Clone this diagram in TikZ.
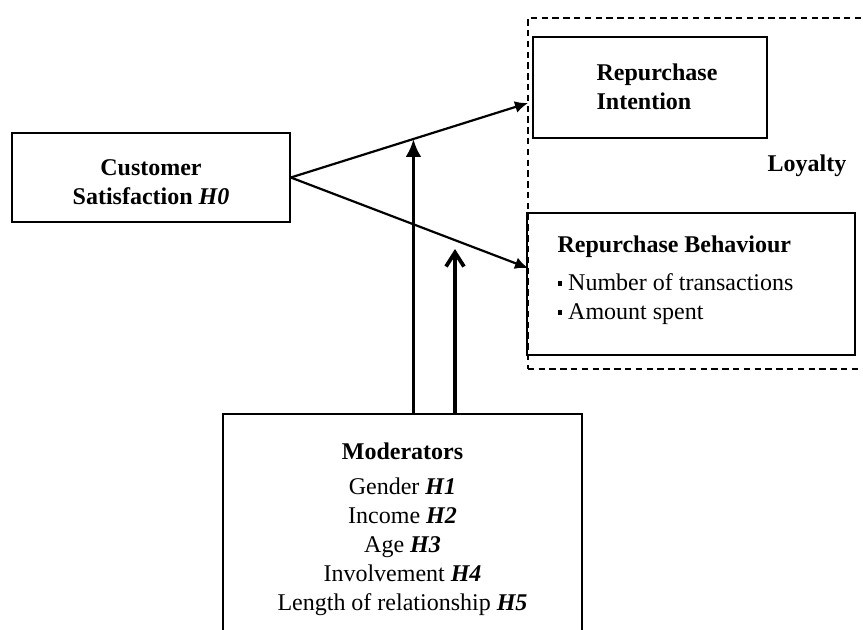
\documentclass[tikz,border=0pt]{standalone}
\usepackage{fontspec}
\setmainfont{Liberation Serif}
\usetikzlibrary{arrows.meta,positioning,calc}
\tikzset{
  box/.style={draw=black,line width=0.8pt,inner sep=0pt},
  txt/.style={inner sep=0pt,align=center,font=\fontsize{12}{14.5}\selectfont},
  head/.style={txt,font=\fontsize{12}{14.5}\selectfont\bfseries},
  group/.style={draw=black,line width=0.8pt,dash pattern=on 3.2pt off 2.2pt,inner sep=0pt},
  flow/.style={-{Latex[length=6.5pt,width=6pt]},line width=1.1pt},
  modflow/.style={-{Latex[length=9pt,width=8pt]},line width=1.9pt},
  modbarb/.style={-{Straight Barb[length=7pt,width=9pt,line width=1.9pt]},line width=1.9pt}
}
\newcommand{\sqbullet}{\raisebox{2.2pt}{\rule{2.3pt}{2.3pt}}\hspace{3pt}}
\begin{document}
\begin{tikzpicture}[x=0.5pt,y=-0.5pt]
  \useasboundingbox (0,0) rectangle (863,629);
  \clip (0,0) rectangle (863,629);
  % loyalty group
  \node[group,minimum width=190pt,minimum height=175.5pt,anchor=north west] (loyalty) at (527,17) {};
  \node[head] (loyal) at (807,166) {Loyalty};
  % boxes
  \node[box,minimum width=139pt,minimum height=44.5pt] (cs) at (151,177.5) {};
  \node[head] (cstext) at ($(cs.center)+(0,5)$) {Customer\\Satisfaction \textit{H0}};
  \node[box,minimum width=117pt,minimum height=50.5pt] (ri) at (650,87.5) {};
  \node[head,align=left,anchor=west] (ritext) at ($(ri.west)+(64,-1)$) {Repurchase\\Intention};
  \node[box,minimum width=164pt,minimum height=71pt] (rb) at (691,284) {};
  \node[txt,align=left,anchor=north west] (rbtext) at ($(rb.north west)+(31,23)$)
    {\textbf{Repurchase Behaviour}\\[4.5pt]\sqbullet Number of transactions\\\sqbullet Amount spent};
  \node[box,minimum width=179.5pt,minimum height=130pt,anchor=north] (mod) at (402.5,413) {};
  \node[txt,anchor=north] (modtext) at ($(mod.north)+(0,29)$)
    {\textbf{Moderators}\\[3pt]Gender \textbf{\textit{H1}}\\Income \textbf{\textit{H2}}\\Age \textbf{\textit{H3}}\\Involvement \textbf{\textit{H4}}\\Length of relationship \textbf{\textit{H5}}};
  % connectors
  \coordinate (ti) at (528,103);
  \coordinate (tb) at (528,268);
  \draw[flow] (cs.east) -- (ti);
  \draw[flow] (cs.east) -- (tb);
  \coordinate (m1) at ($(cs.east)!0.517!(ti)$);
  \coordinate (m2) at (455,249);
  \draw[modflow] (mod.north -| m1) -- (m1);
  \draw[modbarb] (mod.north -| m2) -- (m2);
\end{tikzpicture}
\end{document}
